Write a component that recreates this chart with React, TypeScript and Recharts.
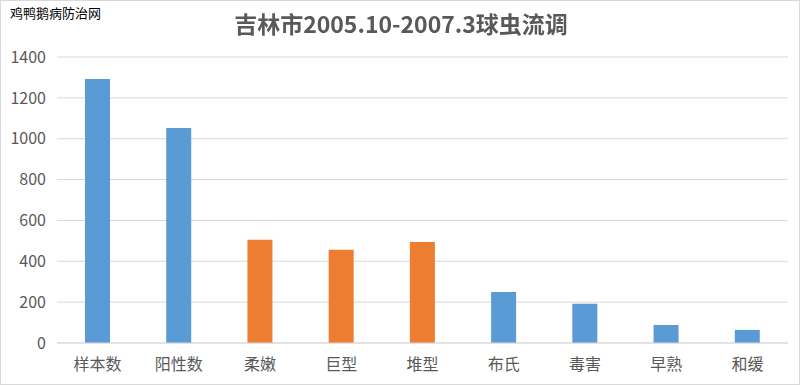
import React from 'react';
import { BarChart, Bar, XAxis, YAxis, CartesianGrid, Cell } from 'recharts';

const categories = ['样本数', '阳性数', '柔嫩', '巨型', '堆型', '布氏', '毒害', '早熟', '和缓'];
const values = [1292, 1052, 506, 457, 494, 250, 192, 88, 64];
const groups = ['total', 'total', 'main', 'main', 'main', 'other', 'other', 'other', 'other'];
const yTicks = [0, 200, 400, 600, 800, 1000, 1200, 1400];
const titleText = '吉林市2005.10-2007.3球虫流调';
const watermark = '鸡鸭鹅病防治网';

const colorFor = (g: string) => (g === 'main' ? '#ED7D31' : '#5B9BD5');

const data = categories.map((c, i) => ({ name: c, value: values[i], group: groups[i] }));

const FONT = '"Noto Sans CJK SC", "Noto Sans", sans-serif';

export default function App() {
  return (
    <div
      style={{
        position: 'fixed',
        left: 0,
        top: 0,
        width: 800,
        height: 385,
        background: '#fff',
        boxSizing: 'border-box',
        border: '1px solid #d9d9d9',
        fontFamily: FONT,
      }}
    >
      <div
        style={{
          position: 'absolute',
          left: 9,
          top: 3,
          fontSize: 13,
          color: '#000',
          lineHeight: '18px',
          zIndex: 2,
        }}
      >
        {watermark}
      </div>
      <div
        style={{
          position: 'absolute',
          left: 0,
          width: 800,
          top: 6,
          textAlign: 'center',
          fontSize: 23,
          fontWeight: 'bold',
          color: '#595959',
          lineHeight: '32px',
          zIndex: 2,
        }}
      >
        {titleText}
      </div>
      <div style={{ position: 'absolute', left: -1, top: -1 }}>
        <BarChart
          width={800}
          height={385}
          data={data}
          margin={{ top: 57, right: 12, bottom: 0, left: 0 }}
          barSize={25}
        >
          <CartesianGrid vertical={false} stroke="#d9d9d9" />
          <XAxis
            dataKey="name"
            height={42}
            axisLine={{ stroke: '#d9d9d9' }}
            tickLine={false}
            tickMargin={10}
            tick={{ fill: '#595959', fontSize: 16, fontFamily: FONT }}
            interval={0}
          />
          <YAxis
            width={57}
            domain={[0, 1400]}
            ticks={yTicks}
            axisLine={false}
            tickLine={false}
            tickMargin={5}
            tick={{ fill: '#595959', fontSize: 16, fontFamily: FONT }}
          />
          <Bar dataKey="value" isAnimationActive={false}>
            {data.map((d, i) => (
              <Cell key={i} fill={colorFor(d.group)} />
            ))}
          </Bar>
        </BarChart>
      </div>
    </div>
  );
}
